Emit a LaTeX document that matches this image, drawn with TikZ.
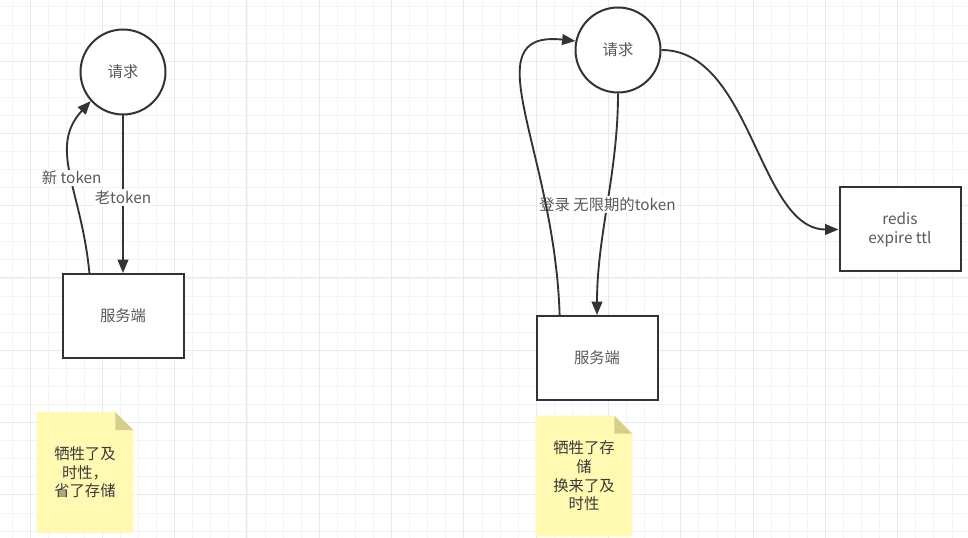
\documentclass[tikz,border=0pt]{standalone}
\usepackage{fontspec}
\setmainfont{Noto Sans CJK SC}
\usetikzlibrary{arrows.meta,backgrounds,calc}

\definecolor{linec}{HTML}{333333}
\definecolor{textc}{HTML}{595959}
\definecolor{notetext}{HTML}{3A3A3A}
\definecolor{notefill}{HTML}{FFF9B2}
\definecolor{notefold}{HTML}{D6CF8C}
\definecolor{gridmajor}{HTML}{E9E9E9}
\definecolor{gridminor}{HTML}{F4F4F4}

\tikzset{
	reqnode/.style={draw=linec, line width=1.5pt, circle, minimum size=63.75pt,
		inner sep=0pt, fill=white, text=textc},
	srvnode/.style={draw=linec, line width=1.5pt, rectangle, minimum width=90.75pt,
		minimum height=63pt, fill=white, text=textc, align=center},
	notenode/.style={minimum width=72pt, minimum height=90pt, inner sep=0pt,
		text=notetext, align=center},
	flow/.style={draw=linec, line width=1.4pt, -{Triangle[length=10pt,width=8pt]}},
	flowlabel/.style={fill=white, text=textc, inner sep=1pt},
}

\begin{document}
\begin{tikzpicture}[x=0.75pt, y=-0.75pt, font=\fontsize{11.5}{14}\selectfont]
	\useasboundingbox (0,0) rectangle (968,538);
	
	% request circles and server boxes
	\node[reqnode] (req1) at (123,72) {请求};
	\node[srvnode] (srv1) at (123,316) {服务端};
	\node[reqnode] (req2) at (618,50) {请求};
	\node[srvnode] (srv2) at (597,358) {服务端};
	\node[srvnode] (redis) at (900,229.5) {redis\\expire ttl};
	
	% notes
	\node[notenode] (note1) at (85,472.5) {牺牲了及\\时性，\\省了存储};
	\node[notenode] (note2) at (584,476) {牺牲了存\\储\\换来了及\\时性};
	
	% Arrows
	\draw[flow] (req1.south) -- (srv1.north) node[flowlabel, pos=0.52] {老token};
	\draw[flow] (srv1.128) .. controls +(-8,-84) and +(-43,47) .. (req1.222)
		node[flowlabel, pos=0.47] {新 token};
	\draw[flow] (req2.south) .. controls +(0,80) and +(0,-80) .. (srv2.north)
		node[flowlabel, pos=0.5] {登录 无限期的token};
	\draw[flow] (srv2.131) .. controls +(-5,-166) and +(-105,-11) .. (req2.168);
	\draw[flow] (req2.east) .. controls +(90,0) and +(-80,0) .. (redis.west);
	
	\begin{scope}[on background layer]
		\fill[white] (0,0) rectangle (968,538);
		% grid
		\foreach \k in {-1,...,52}
			\draw[gridminor, line width=0.5pt] ({30+18.075*\k},0) -- ({30+18.075*\k},538);
		\foreach \k in {-3,...,26}
			\draw[gridminor, line width=0.5pt] (0,{61+18.075*\k}) -- (968,{61+18.075*\k});
		\foreach \k in {0,...,12}
			\draw[gridmajor, line width=0.7pt] ({30+72.3*\k},0) -- ({30+72.3*\k},538);
		\foreach \k in {0,...,6}
			\draw[gridmajor, line width=0.7pt] (0,{61+72.3*\k}) -- (968,{61+72.3*\k});
		% note sheets
		\foreach \n in {note1,note2} {
			\fill[notefill] (\n.north west) -- ($(\n.north east)+(-18,0)$)
				-- ($(\n.north east)+(0,18)$) -- (\n.south east) -- (\n.south west) -- cycle;
			\fill[notefold] ($(\n.north east)+(-18,0)$) -- ($(\n.north east)+(-18,18)$)
				-- ($(\n.north east)+(0,18)$) -- cycle;
		}
	\end{scope}
\end{tikzpicture}
\end{document}
